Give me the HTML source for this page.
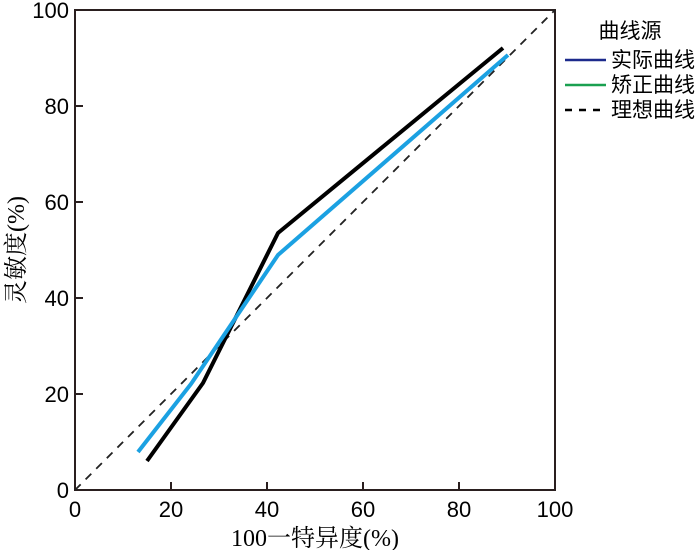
<!DOCTYPE html>
<html><head><meta charset="utf-8"><style>
body{margin:0;background:#fff;width:700px;height:550px;overflow:hidden}
text{font-family:"Liberation Sans","Noto Sans CJK SC",sans-serif;fill:#000}
</style></head><body>
<svg width="700" height="550" viewBox="0 0 700 550">
<rect x="75" y="10" width="480" height="480" fill="none" stroke="#2a1f1f" stroke-width="2"/>
<g stroke="#2a1f1f" stroke-width="2">
<line x1="171" y1="490" x2="171" y2="482"/><line x1="267" y1="490" x2="267" y2="482"/><line x1="363" y1="490" x2="363" y2="482"/><line x1="459" y1="490" x2="459" y2="482"/>
<line x1="75" y1="394" x2="83" y2="394"/><line x1="75" y1="298" x2="83" y2="298"/><line x1="75" y1="202" x2="83" y2="202"/><line x1="75" y1="106" x2="83" y2="106"/><line x1="75" y1="10" x2="83" y2="10"/>
</g>
<g font-size="22" text-anchor="middle">
<text x="75" y="517">0</text><text x="171" y="517">20</text><text x="267" y="517">40</text><text x="363" y="517">60</text><text x="459" y="517">80</text><text x="555" y="517">100</text>
</g>
<g font-size="22" text-anchor="end">
<text x="69" y="498">0</text><text x="69" y="402">20</text><text x="69" y="306">40</text><text x="69" y="210">60</text><text x="69" y="114">80</text><text x="69" y="18">100</text>
</g>
<text x="315" y="546" font-size="24" text-anchor="middle" style="font-family:'Liberation Serif','Noto Serif CJK SC',serif">100一特异度(%)</text>
<text transform="translate(24,250) rotate(-90)" font-size="24" text-anchor="middle" style="font-family:'Liberation Serif','Noto Serif CJK SC',serif">灵敏度(%)</text>
<line x1="75" y1="490" x2="555" y2="10" stroke="#222" stroke-width="1.8" stroke-dasharray="8,7"/>
<polyline points="147,461 203,383 278,233 503,48" fill="none" stroke="#000" stroke-width="4"/>
<polyline points="138,452 191,384 278,255 508,55" fill="none" stroke="#1ba1e2" stroke-width="4"/>
<text x="630" y="38" font-size="21" text-anchor="middle">曲线源</text>
<line x1="565" y1="60" x2="606" y2="60" stroke="#1c2a8c" stroke-width="2.5"/>
<text x="611" y="67" font-size="21">实际曲线</text>
<line x1="565" y1="85" x2="606" y2="85" stroke="#1aa050" stroke-width="2.5"/>
<text x="611" y="92" font-size="21">矫正曲线</text>
<line x1="565" y1="110" x2="606" y2="110" stroke="#000" stroke-width="2.5" stroke-dasharray="7,7"/>
<text x="611" y="117" font-size="21">理想曲线</text>
</svg>
</body></html>
